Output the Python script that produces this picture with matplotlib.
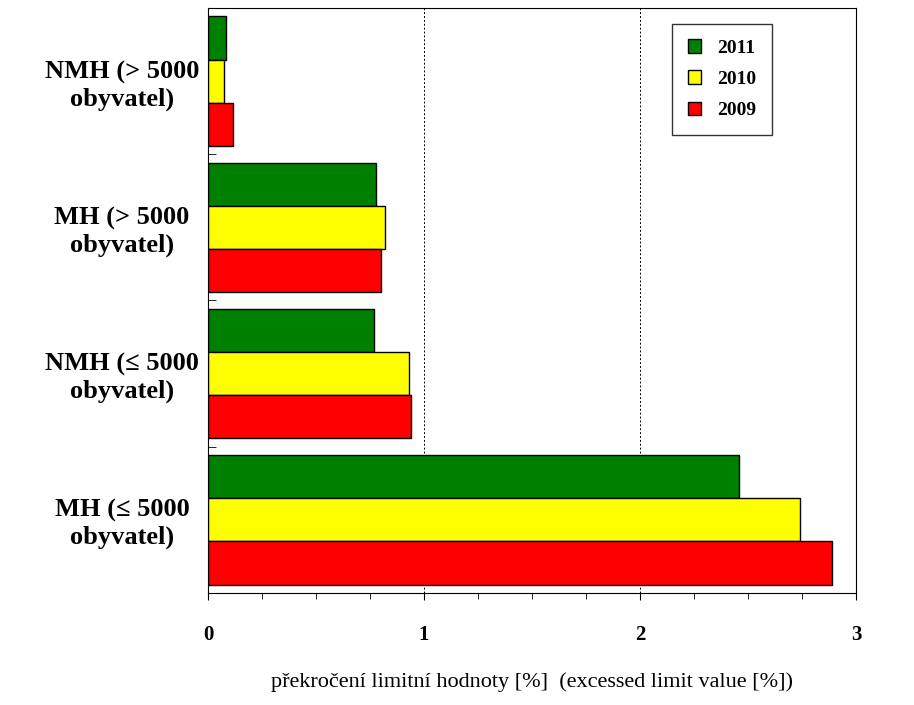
import matplotlib
matplotlib.use("Agg")
import matplotlib.pyplot as plt
import numpy as np
from matplotlib.ticker import MultipleLocator

categories = ["MH (\u2264 5000\nobyvatel)", "NMH (\u2264 5000\nobyvatel)",
              "MH (> 5000\nobyvatel)", "NMH (> 5000\nobyvatel)"]
v2011 = [2.46, 0.77, 0.78, 0.083]
v2010 = [2.74, 0.93, 0.82, 0.074]
v2009 = [2.89, 0.94, 0.80, 0.116]

plt.rcParams["font.family"] = "Liberation Serif"
plt.rcParams["font.weight"] = "bold"

fig = plt.figure(figsize=(9.14, 7.05), dpi=100)
ax = fig.add_axes([0.2276, 0.1589, 0.7089, 0.8298])
y = np.arange(len(categories))
h = 0.295
ax.barh(y + h, v2011, h, color="#008000", edgecolor="black", lw=1, label="2011")
ax.barh(y, v2010, h, color="#ffff00", edgecolor="black", lw=1, label="2010")
ax.barh(y - h, v2009, h, color="#ff0000", edgecolor="black", lw=1, label="2009")

ax.set_xlim(0, 3)
ax.set_ylim(-0.5, 3.5)
ax.xaxis.set_major_locator(MultipleLocator(1))
ax.xaxis.set_minor_locator(MultipleLocator(0.25))
ax.tick_params(axis="x", which="both", direction="out", labelsize=15, pad=18)
ax.tick_params(axis="x", which="major", length=5)
ax.tick_params(axis="x", which="minor", length=4)
ax.set_yticks(y)
ax.set_yticklabels(categories, fontsize=19, ha="center")
ax.tick_params(axis="y", which="major", length=0, pad=62)
ax.set_yticks(np.arange(-0.5, 3.6, 0.5), minor=True)
ax.tick_params(axis="y", which="minor", direction="in", length=6)
for xv in [1, 2]:
    ax.axvline(xv, color="black", ls=(0, (2, 2)), lw=0.7, zorder=0)
ax.set_xlabel("p\u0159ekro\u010den\u00ed limitn\u00ed hodnoty [%]  (excessed limit value [%])",
              fontsize=16, labelpad=20)
leg = ax.legend(loc="upper right", bbox_to_anchor=(0.885, 0.99), fontsize=14,
                frameon=True, fancybox=False, edgecolor="black", handlelength=0.7,
                handleheight=0.7, labelspacing=0.7, borderpad=0.8)
leg.get_frame().set_linewidth(1)
fig.savefig("out.png", dpi=100)
